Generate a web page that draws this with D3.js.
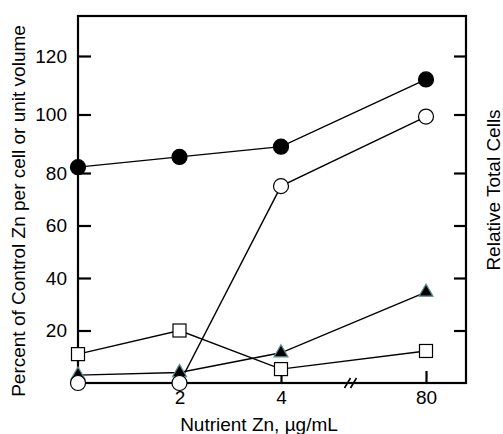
<!DOCTYPE html>
<html>
<head>
<meta charset="utf-8">
<script src="https://cdn.jsdelivr.net/npm/d3@7"></script>
<style>
  body { margin: 0; background: #fff; }
  svg { display: block; font-family: "Liberation Sans", Arial, sans-serif; }
</style>
</head>
<body>
<div id="chart"></div>
<script>
// Nutrient Zn levels (ug/mL) and the four measured series
const zinc = [0, 2, 4, 80];
const filledCircles = [82, 85.5, 89, 112];
const openCircles = [0, 0, 75, 99.3];
const filledTriangles = [3, 4, 11.5, 34.6];
const openSquares = [11, 20, 5.3, 12.2];

const xTicks = [2, 4, 80];
const yTicks = [20, 40, 60, 80, 100, 120];

const width = 503;
const height = 434;
const frame = { left: 78, right: 466, top: 16, bottom: 383 };

const svg = d3.select('#chart')
  .append('svg')
  .attr('width', width)
  .attr('height', height);

// x has a break between 4 and 80
const xScale = d3.scaleLinear()
  .domain([0, 4, 80])
  .range([frame.left, 281, 426]);

// the printed y axis is not quite evenly spaced
const yScale = d3.scaleLinear()
  .domain([0, 80, 120])
  .range([frame.bottom, 173, 56]);

// Axes (ticks point inward)
const xAxis = d3.axisBottom(xScale)
  .tickValues(xTicks)
  .tickSizeInner(-12)
  .tickSizeOuter(0)
  .tickPadding(8);

const yAxis = d3.axisLeft(yScale)
  .tickValues(yTicks)
  .tickSizeInner(-13)
  .tickSizeOuter(0)
  .tickPadding(24);

const yAxisRight = d3.axisRight(yScale)
  .tickValues(yTicks)
  .tickFormat('')
  .tickSizeInner(-12)
  .tickSizeOuter(0);

function styleAxis(g) {
  g.select('.domain').remove();
  g.selectAll('line').attr('stroke', '#000').attr('stroke-width', 2.2);
  g.selectAll('text')
    .attr('fill', '#000')
    .style('font-size', '19px')
    .style('font-family', '"Liberation Sans", Arial, sans-serif');
}

svg.append('g')
  .attr('transform', `translate(0,${frame.bottom})`)
  .call(xAxis)
  .call(styleAxis);

svg.append('g')
  .attr('transform', `translate(${frame.left},0)`)
  .call(yAxis)
  .call(styleAxis)
  .call((g) => g.selectAll('text').attr('x', -11));

svg.append('g')
  .attr('transform', `translate(${frame.right},0)`)
  .call(yAxisRight)
  .call(styleAxis);

// Frame
svg.append('rect')
  .attr('x', frame.left)
  .attr('y', frame.top)
  .attr('width', frame.right - frame.left)
  .attr('height', frame.bottom - frame.top)
  .attr('fill', 'none')
  .attr('stroke', '#000')
  .attr('stroke-width', 2.2);

// Axis break "//"
const breakX = (xScale(4) + xScale(80)) / 2 - 3;
[-3, 3].forEach((dx) => {
  svg.append('line')
    .attr('x1', breakX + dx - 3)
    .attr('y1', frame.bottom + 5)
    .attr('x2', breakX + dx + 3)
    .attr('y2', frame.bottom - 5)
    .attr('stroke', '#000')
    .attr('stroke-width', 1.6);
});

// Series lines
const series = [
  { values: openSquares, type: 'square' },
  { values: filledTriangles, type: 'triangle' },
  { values: openCircles, type: 'openCircle' },
  { values: filledCircles, type: 'filledCircle' },
];

const line = d3.line()
  .x((d, i) => xScale(zinc[i]))
  .y((d) => yScale(d));

svg.append('g')
  .selectAll('path')
  .data(series)
  .join('path')
  .attr('d', (s) => line(s.values))
  .attr('fill', 'none')
  .attr('stroke', '#000')
  .attr('stroke-width', 1.4);

// Markers
const marks = svg.append('g');
series.forEach((s) => {
  const g = marks.append('g');
  const pts = s.values.map((v, i) => [xScale(zinc[i]), yScale(v)]);
  if (s.type === 'square') {
    g.selectAll('rect')
      .data(pts)
      .join('rect')
      .attr('x', (d) => d[0] - 6.5)
      .attr('y', (d) => d[1] - 6.5)
      .attr('width', 13)
      .attr('height', 13)
      .attr('fill', '#fff')
      .attr('stroke', '#000')
      .attr('stroke-width', 1.2);
  } else if (s.type === 'triangle') {
    g.selectAll('path')
      .data(pts)
      .join('path')
      .attr('transform', (d) => `translate(${d[0]},${d[1]})`)
      .attr('d', d3.symbol(d3.symbolTriangle, 85)())
      .attr('fill', '#000')
      .attr('stroke', '#5e8e96')
      .attr('stroke-width', 1.2);
  } else {
    g.selectAll('circle')
      .data(pts)
      .join('circle')
      .attr('cx', (d) => d[0])
      .attr('cy', (d) => d[1])
      .attr('r', 7.5)
      .attr('fill', s.type === 'filledCircle' ? '#000' : '#fff')
      .attr('stroke', '#000')
      .attr('stroke-width', 1.2);
  }
});

// Axis titles
svg.append('text')
  .attr('x', 259)
  .attr('y', 431)
  .attr('text-anchor', 'middle')
  .style('font-size', '19px')
  .text('Nutrient Zn, µg/mL');

svg.append('text')
  .attr('transform', 'translate(25,211) rotate(-90)')
  .attr('text-anchor', 'middle')
  .style('font-size', '19px')
  .text('Percent of Control Zn per cell or unit volume');

svg.append('text')
  .attr('transform', 'translate(500,190) rotate(-90)')
  .attr('text-anchor', 'middle')
  .style('font-size', '19px')
  .text('Relative Total Cells');
</script>
</body>
</html>
